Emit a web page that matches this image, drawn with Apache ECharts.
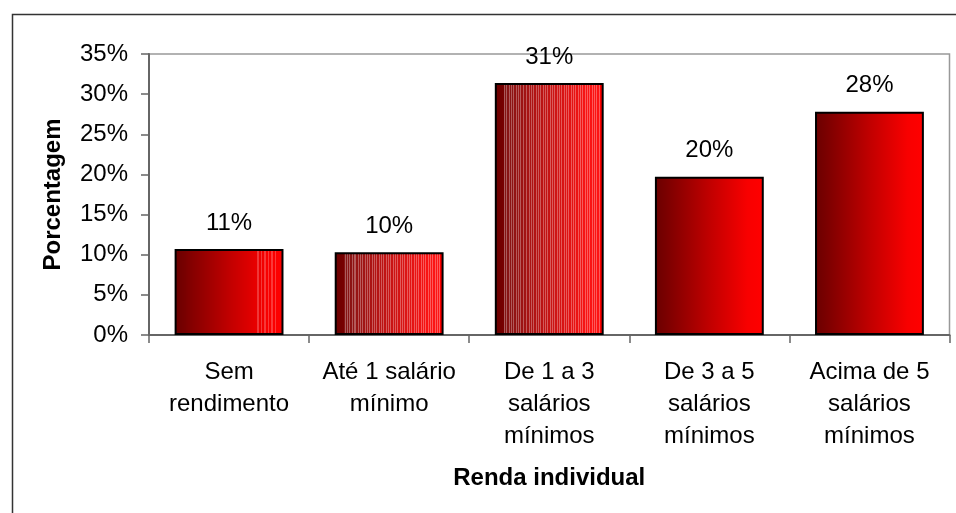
<!DOCTYPE html>
<html>
	<head>
		<meta charset="utf-8">
		<title>Renda individual</title>
		<script src="https://cdn.jsdelivr.net/npm/echarts@6.0.0/dist/echarts.min.js"></script>
		<style>
			html, body { margin: 0; padding: 0; background: #fff; }
			#chart { width: 956px; height: 513px; }
		</style>
	</head>
	<body>
	<div id="chart"></div>
	<script type="text/javascript">
		// dados
		var categories = ['Sem\nrendimento', 'Até 1 salário\nmínimo', 'De 1 a 3\nsalários\nmínimos', 'De 3 a 5\nsalários\nmínimos', 'Acima de 5\nsalários\nmínimos'];
		var values = [10.7, 10.3, 31.4, 19.7, 27.8];
		var yMin = 0, yMax = 35, yStep = 5;

		var FONT = 'Arial, "Liberation Sans", sans-serif';
		var FS = 24;

		// gradiente escuro -> vermelho
		var baseStops = [[0, [106, 0, 0]], [0.1, [122, 0, 0]], [0.5, [192, 0, 0]], [0.85, [248, 0, 0]], [1, [255, 0, 0]]];
		function base(t) {
			for (var i = 1; i < baseStops.length; i++) {
				if (t <= baseStops[i][0]) {
					var a = baseStops[i - 1], b = baseStops[i];
					var k = (t - a[0]) / (b[0] - a[0]);
					return [0, 1, 2].map(function (j) { return Math.round(a[1][j] + (b[1][j] - a[1][j]) * k); });
				}
			}
			return baseStops[baseStops.length - 1][1];
		}
		function rgb(c) { return 'rgb(' + c.join(',') + ')'; }
		function lighten(c, k) { return c.map(function (v) { return Math.round(v + (255 - v) * k); }); }

		function smooth() {
			return {
				type: 'linear', x: 0, y: 0, x2: 1, y2: 0,
				colorStops: baseStops.map(function (s) { return { offset: s[0], color: rgb(s[1]) }; })
			};
		}
		// listras verticais (textura do original)
		function striped(from, to, seed, k, lift) {
			var stops = [], n = 110;
			for (var i = 0; i < n; i++) {
				var a = i / n, b = (i + 1) / n, t = (a + b) / 2;
				var c = base(t);
				if (t > from && t < to) {
					c = lighten(c, lift);
					if ((i * seed) % 7 < 3) c = lighten(c, k);
				}
				stops.push({ offset: a, color: rgb(c) }, { offset: b, color: rgb(c) });
			}
			return { type: 'linear', x: 0, y: 0, x2: 1, y2: 0, colorStops: stops };
		}
		var fills = [striped(0.74, 0.95, 5, 0.22, 0), striped(0.08, 0.96, 3, 0.3, 0.08), striped(0.08, 0.96, 4, 0.3, 0.08), smooth(), smooth()];

		var chart = echarts.init(document.getElementById('chart'));
		var option = {
			animation: false,
			textStyle: { fontFamily: FONT },
			graphic: [{
				type: 'rect', left: 10, top: 12, z: -1,
				shape: { width: 980, height: 540 },
				style: { fill: 'none', stroke: '#333', lineWidth: 1.5 }
			}],
			grid: {
				left: 149, right: 6.5, top: 54, bottom: 178,
				show: true, borderColor: '#999', borderWidth: 1.5
			},
			xAxis: {
				type: 'category',
				data: categories,
				name: 'Renda individual',
				nameLocation: 'middle',
				nameGap: 131,
				nameTextStyle: { fontSize: FS, fontWeight: 'bold', color: '#000', fontFamily: FONT },
				axisLine: { lineStyle: { color: '#666', width: 2 } },
				axisTick: { show: true, length: 8, lineStyle: { color: '#666', width: 1.5 } },
				axisLabel: { margin: 21, fontSize: FS, lineHeight: 32, color: '#000', fontFamily: FONT, interval: 0 }
			},
			yAxis: {
				type: 'value',
				min: yMin, max: yMax, interval: yStep,
				name: 'Porcentagem',
				nameLocation: 'middle',
				nameGap: 84,
				nameTextStyle: { fontSize: FS, fontWeight: 'bold', color: '#000', fontFamily: FONT },
				splitLine: { show: false },
				axisLine: { show: true, lineStyle: { color: '#666', width: 2 } },
				axisTick: { show: true, length: 8, lineStyle: { color: '#666', width: 1.5 } },
				axisLabel: { margin: 21, fontSize: FS, color: '#000', fontFamily: FONT, formatter: '{value}%' }
			},
			series: [{
				type: 'bar',
				barWidth: '68%',
				data: values.map(function (v, i) {
					return { value: v, itemStyle: { color: fills[i] } };
				}),
				itemStyle: { borderColor: '#000', borderWidth: 2 },
				label: {
					show: true, position: 'top', distance: 14,
					fontSize: FS, color: '#000', fontFamily: FONT,
					formatter: function (p) { return Math.round(p.value) + '%'; }
				}
			}]
		};
		chart.setOption(option);
	</script>
	</body>
</html>
